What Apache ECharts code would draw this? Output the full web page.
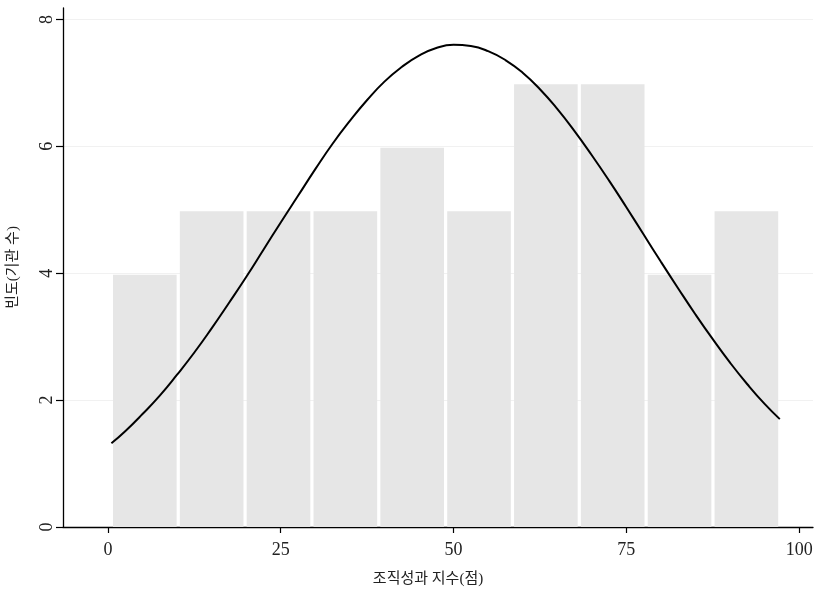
<!DOCTYPE html>
<html>
<head>
<meta charset="utf-8">
<script src="https://cdn.jsdelivr.net/npm/echarts@6/dist/echarts.min.js"></script>
<style>html,body{margin:0;padding:0;background:#fff}#c{width:820px;height:589px}</style>
</head>
<body>
<div id="c"></div>
<script>
// Histogram bins: [start, end] edges and counts
var binEdges = [0.5, 10.17, 19.84, 29.51, 39.18, 48.85, 58.52, 68.19, 77.86, 87.53, 97.2];
var binCounts = [4, 5, 5, 5, 6, 5, 7, 7, 4, 5];
// Normal density overlay
var curveX = [0.5, 2.5, 5, 7.5, 10, 12.5, 15, 17.5, 20, 22.5, 25, 27.5, 30, 32.5, 35, 37.5, 40, 42.5, 45, 47.5, 50,
              52.5, 55, 57.5, 60, 62.5, 65, 67.5, 70, 72.5, 75, 77.5, 80, 82.5, 85, 87.5, 90, 92.5, 95, 97.2];
var curveY = [1.32, 1.51, 1.78, 2.07, 2.40, 2.75, 3.13, 3.53, 3.94, 4.37, 4.80, 5.22, 5.64, 6.04, 6.40, 6.73, 7.02, 7.25, 7.43, 7.55, 7.60,
              7.58, 7.50, 7.36, 7.16, 6.90, 6.59, 6.24, 5.86, 5.46, 5.04, 4.61, 4.18, 3.76, 3.35, 2.96, 2.59, 2.25, 1.94, 1.70];
var xTicks = [0, 25, 50, 75, 100];
var yTicks = [0, 2, 4, 6, 8];
var xTitle = '조직성과 지수(점)';
var yTitle = '빈도(기관 수)';

var FONT = '"Liberation Serif", "Noto Sans CJK KR", serif';

var barData = binCounts.map(function (c, i) { return [binEdges[i], binEdges[i + 1], c]; });
var lineData = curveX.map(function (x, i) { return [x, curveY[i]]; });

var chart = echarts.init(document.getElementById('c'), null, { renderer: 'canvas' });
chart.setOption({
  animation: false,
  backgroundColor: '#fff',
  grid: { left: 63, right: 7, top: 8, bottom: 62, containLabel: false, outerBoundsMode: 'none' },
  xAxis: {
    type: 'value', min: -6.5, max: 102,
    name: xTitle, nameLocation: 'middle', nameGap: 45,
    nameTextStyle: { fontFamily: FONT, fontSize: 15, color: '#222', padding: [0, 20, 0, 0] },
    axisLine: { show: true, onZero: false, lineStyle: { color: '#000', width: 1.3 } },
    axisTick: { show: true, length: 6, lineStyle: { color: '#000', width: 1.2 }, customValues: xTicks },
    axisLabel: { fontFamily: FONT, fontSize: 18, color: '#222', margin: 14, customValues: xTicks },
    splitLine: { show: false }
  },
  yAxis: {
    type: 'value', min: 0, max: 8.18,
    name: yTitle, nameLocation: 'middle', nameGap: 42, nameRotate: 90,
    nameTextStyle: { fontFamily: FONT, fontSize: 15, color: '#222' },
    axisLine: { show: true, onZero: false, lineStyle: { color: '#000', width: 1.3 } },
    axisTick: { show: true, length: 7, lineStyle: { color: '#000', width: 1.2 }, customValues: yTicks },
    axisLabel: { fontFamily: FONT, fontSize: 18, color: '#222', rotate: 90, margin: 7, customValues: yTicks },
    splitLine: { show: true, lineStyle: { color: '#f1f1f1', width: 1 } }
  },
  series: [
    {
      type: 'custom',
      data: barData,
      encode: { x: [0, 1], y: 2 },
      renderItem: function (params, api) {
        var p0 = api.coord([api.value(0), api.value(2)]);
        var p1 = api.coord([api.value(1), 0]);
        return {
          type: 'rect',
          shape: { x: p0[0] + 1.6, y: p0[1] + 1.5, width: p1[0] - p0[0] - 3.2, height: p1[1] - p0[1] - 1.5 },
          style: { fill: '#e6e6e6' }
        };
      },
      z: 1
    },
    {
      type: 'line',
      data: lineData,
      smooth: true,
      showSymbol: false,
      lineStyle: { color: '#000', width: 2 },
      z: 3
    }
  ]
});
</script>
</body>
</html>
